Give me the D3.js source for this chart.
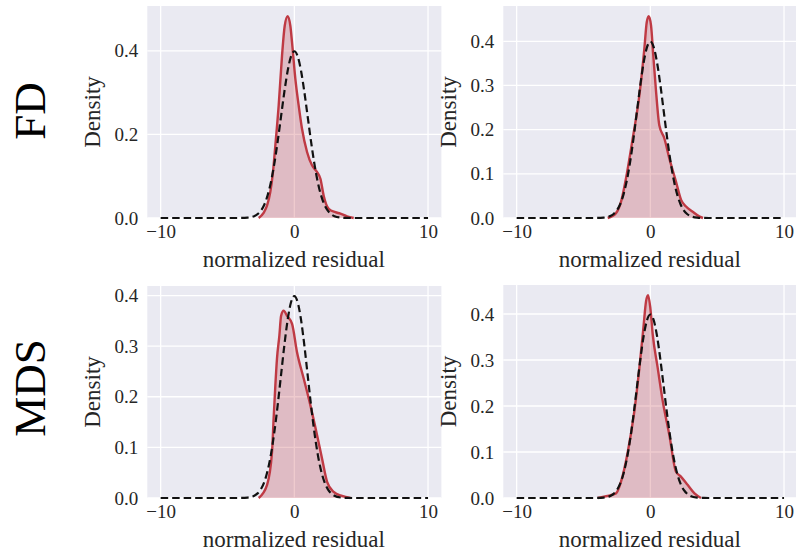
<!DOCTYPE html>
<html>
<head>
<meta charset="utf-8">
<script src="https://cdn.jsdelivr.net/npm/d3@7"></script>
<style>
  body { margin: 0; background: #fff; }
  text { font-family: "Liberation Serif", "DejaVu Serif", serif; }
</style>
</head>
<body>
<div id="chart"></div>
<script>
var width = 796, height = 554

// x ticks and y ticks
var xTicks = [-10, 0, 10]
var yTicksFD1 = [0, 0.2, 0.4]
var yTicksOther = [0, 0.1, 0.2, 0.3, 0.4]

// dashed reference curve
var normX = [-10, -4.5, -4, -3.5, -3, -2.75, -2.5, -2.25, -2, -1.75, -1.5, -1.25, -1, -0.75, -0.5, -0.25, 0,
             0.25, 0.5, 0.75, 1, 1.25, 1.5, 1.75, 2, 2.25, 2.5, 2.75, 3, 3.5, 4, 4.5, 10]
var normY = [0, 0.00002, 0.00013, 0.0009, 0.0044, 0.0091, 0.0175, 0.0317, 0.054, 0.0863, 0.1295, 0.1826, 0.242, 0.3011, 0.3521, 0.3867, 0.3989,
             0.3867, 0.3521, 0.3011, 0.242, 0.1826, 0.1295, 0.0863, 0.054, 0.0317, 0.0175, 0.0091, 0.0044, 0.0009, 0.00013, 0.00002, 0]

// red density curves
var fdLeftX = [-2.67, -2.3, -2.04, -1.8, -1.6, -1.42, -1.17, -0.92, -0.72, -0.5, -0.3, -0.13, 0.075, 0.32, 0.57, 0.95, 1.32, 1.7, 1.95, 2.19, 2.57, 3.07, 3.44, 3.94, 4.44]
var fdLeftY = [0, 0.012, 0.03, 0.062, 0.11, 0.174, 0.27, 0.389, 0.46, 0.483, 0.46, 0.405, 0.333, 0.27, 0.214, 0.158, 0.126, 0.11, 0.094, 0.054, 0.022, 0.014, 0.0105, 0.004, 0]

var fdRightX = [-3.19, -2.57, -2.19, -1.82, -1.32, -0.82, -0.45, -0.27, -0.12, 0.05, 0.22, 0.43, 0.67, 1.05, 1.42, 1.92, 2.3, 2.67, 3.17, 3.69, 3.94]
var fdRightY = [0, 0.011, 0.037, 0.09, 0.18, 0.278, 0.383, 0.443, 0.457, 0.436, 0.368, 0.285, 0.21, 0.18, 0.135, 0.082, 0.041, 0.026, 0.014, 0.003, 0]

var mdsLeftX = [-2.67, -2.04, -1.67, -1.55, -1.42, -1.3, -1.12, -0.99, -0.8, -0.55, -0.17, 0.2, 0.7, 1.2, 1.7, 2.07, 2.45, 2.94, 3.57, 4.19]
var mdsLeftY = [0, 0.026, 0.091, 0.157, 0.223, 0.275, 0.321, 0.36, 0.37, 0.36, 0.344, 0.288, 0.236, 0.183, 0.124, 0.078, 0.032, 0.012, 0.004, 0]

var mdsRightX = [-3.93, -3.3, -2.57, -2.19, -1.69, -1.2, -0.82, -0.52, -0.32, -0.17, 0.0, 0.18, 0.55, 0.93, 1.42, 1.92, 2.3, 2.8, 3.3, 3.79]
var mdsRightY = [0, 0.004, 0.010, 0.036, 0.1, 0.188, 0.283, 0.37, 0.428, 0.441, 0.413, 0.355, 0.283, 0.21, 0.137, 0.057, 0.046, 0.028, 0.01, 0]

var rowLabels = ["FD", "MDS"]

var svg = d3.select("#chart")
  .append("svg")
    .attr("width", width)
    .attr("height", height)

var panels = [
  { left: 147.3, top: 6, bottom: 218, xs: fdLeftX, ys: fdLeftY, yt: yTicksFD1 },
  { left: 503.3, top: 6, bottom: 218, xs: fdRightX, ys: fdRightY, yt: yTicksOther },
  { left: 147.3, top: 286, bottom: 498, xs: mdsLeftX, ys: mdsLeftY, yt: yTicksOther },
  { left: 503.3, top: 285, bottom: 498, xs: mdsRightX, ys: mdsRightY, yt: yTicksOther }
]
var panelW = 294.1

panels.forEach(function(p) {
  var g = svg.append("g")

  var x = d3.scaleLinear().domain([-11, 11]).range([p.left, p.left + panelW])
  var ymax = d3.max(p.ys.concat(normY)) * 1.05
  var y = d3.scaleLinear().domain([0, ymax]).range([p.bottom, p.top])

  g.append("rect")
    .attr("x", p.left).attr("y", p.top)
    .attr("width", panelW).attr("height", p.bottom - p.top)
    .attr("fill", "#eaeaf2")

  // grid
  g.selectAll(".gx").data(xTicks).enter().append("line")
    .attr("x1", d => x(d)).attr("x2", d => x(d))
    .attr("y1", p.top).attr("y2", p.bottom)
    .attr("stroke", "#fff").attr("stroke-width", 1.3)
  g.selectAll(".gy").data(p.yt).enter().append("line")
    .attr("x1", p.left).attr("x2", p.left + panelW)
    .attr("y1", d => y(d)).attr("y2", d => y(d))
    .attr("stroke", "#fff").attr("stroke-width", 1.3)

  // axes (labels only)
  var xAxis = g.append("g")
    .attr("transform", `translate(0,${p.bottom})`)
    .call(d3.axisBottom(x).tickValues(xTicks).tickSize(0).tickPadding(7).tickFormat(d3.format("d")))
  var yAxis = g.append("g")
    .attr("transform", `translate(${p.left},0)`)
    .call(d3.axisLeft(y).tickValues(p.yt).tickSize(0).tickPadding(9).tickFormat(d3.format(".1f")))
  ;[xAxis, yAxis].forEach(function(a) {
    a.select(".domain").remove()
    a.selectAll("text")
      .style("font-family", "'Liberation Serif', serif")
      .style("font-size", "19px")
      .attr("fill", "#262626")
  })

  var pts = p.xs.map((v, i) => [v, p.ys[i]])
  var nPts = normX.map((v, i) => [v, normY[i]])

  g.append("path")
    .datum(pts)
    .attr("d", d3.area().x(d => x(d[0])).y0(y(0)).y1(d => y(d[1])).curve(d3.curveMonotoneX))
    .attr("fill", "#c0303a").attr("fill-opacity", 0.25)

  g.append("path")
    .datum(pts)
    .attr("d", d3.line().x(d => x(d[0])).y(d => y(d[1])).curve(d3.curveMonotoneX))
    .attr("fill", "none").attr("stroke", "#bf3a44").attr("stroke-width", 2.4)

  g.append("path")
    .datum(nPts)
    .attr("d", d3.line().x(d => x(d[0])).y(d => y(d[1])).curve(d3.curveMonotoneX))
    .attr("fill", "none").attr("stroke", "#111").attr("stroke-width", 2.2)
    .attr("stroke-dasharray", "7.5,4")

  // axis titles
  g.append("text")
    .attr("x", p.left + panelW / 2 - 0.5)
    .attr("y", p.bottom + 49)
    .attr("text-anchor", "middle")
    .style("font-size", "23px")
    .attr("fill", "#262626")
    .text("normalized residual")

  g.append("text")
    .attr("transform", `translate(${p.left - 47},${(p.top + p.bottom) / 2}) rotate(-90)`)
    .attr("text-anchor", "middle")
    .style("font-size", "23px")
    .attr("fill", "#262626")
    .text("Density")
})

// row labels
svg.selectAll(".row").data(rowLabels).enter().append("text")
  .attr("transform", (d, i) => `translate(45,${i == 0 ? 111 : 388}) rotate(-90)`)
  .attr("text-anchor", "middle")
  .style("font-size", "45px")
  .attr("fill", "#000")
  .text(d => d)
</script>
</body>
</html>
